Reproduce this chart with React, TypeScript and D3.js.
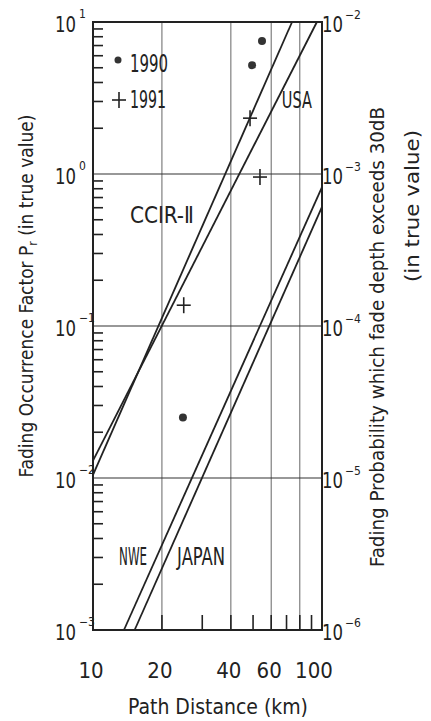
import React from 'react';
import { scaleLog, line } from 'd3';

// values (log-log chart)
const xTickValues = [10, 20, 40, 60, 100];
const xGridValues = [20, 40, 60, 80];
const xMinorValues = [20, 30, 40, 50, 60, 70, 80, 90];
const leftDecades = [10, 1, 0.1, 0.01, 0.001];
const leftExponents = ['1', '0', '−1', '−2', '−3'];
const rightDecades = [1e-2, 1e-3, 1e-4, 1e-5, 1e-6];
const rightExponents = ['−2', '−3', '−4', '−5', '−6'];

const lineNames = ['CCIR-Ⅱ', 'USA', 'NWE', 'JAPAN'];
const lineDistance = [[10, 74], [10, 95], [13.65, 100], [15.2, 100]];
const lineFactor = [[0.0105, 10], [0.013, 10], [0.001, 0.82], [0.001, 0.607]];
const labelDistance = [14.5, 66.8, 13.0, 23.3];
const labelFactor = [0.476, 2.72, 0.00268, 0.00268];
const labelWidth = [64, 30, 28, 48];

const dots1990Distance = [49.5, 54.7, 24.7];
const dots1990Factor = [5.2, 7.5, 0.025];
const cross1991Distance = [48.5, 53.6, 24.9];
const cross1991Factor = [2.33, 0.955, 0.137];

const W = 431;
const H = 721;
const M = { left: 93, right: 322, top: 22, bottom: 630 };
const FONT = '"DejaVu Sans Condensed", "DejaVu Sans", sans-serif';
const INK = '#222';

export default function App() {
  const x = scaleLog().domain([10, 100]).range([M.left, M.right]);
  const yL = scaleLog().domain([1e-3, 10]).range([M.bottom, M.top]);
  const yR = scaleLog().domain([1e-6, 1e-2]).range([M.bottom, M.top]);

  const minorLeft = yL.ticks().filter(v => {
    const m = v / Math.pow(10, Math.floor(Math.log10(v) + 1e-9));
    return Math.round(m) !== 1;
  });

  const path = line<[number, number]>()
    .x(d => x(d[0]))
    .y(d => yL(d[1]));

  const cross = (key: string, cx: number, cy: number) => (
    <g key={key} transform={`translate(${cx},${cy})`} stroke={INK} strokeWidth={1.6}>
      <line x1={-7} x2={7} y1={0} y2={0} />
      <line x1={0} x2={0} y1={-8} y2={8} />
    </g>
  );

  return (
    <svg width={W} height={H} style={{ position: 'absolute', left: 0, top: 0, background: '#fff' }} fontFamily={FONT} fontStretch="condensed">
      <rect x={0} y={0} width={W} height={H} fill="#fff" />

      {/* vertical grid */}
      {xGridValues.map(v => (
        <line key={'gx' + v} x1={x(v)} x2={x(v)} y1={M.top} y2={M.bottom} stroke="#666" strokeWidth={1} />
      ))}
      {/* horizontal decade grid */}
      {leftDecades.slice(1, 4).map(v => (
        <line key={'gy' + v} x1={M.left} x2={M.right} y1={yL(v)} y2={yL(v)} stroke="#333" strokeWidth={1.2} />
      ))}

      {/* bottom minor ticks */}
      {xMinorValues.map(v => (
        <line key={'mx' + v} x1={x(v)} x2={x(v)} y1={M.bottom} y2={M.bottom - 15} stroke={INK} strokeWidth={1.6} />
      ))}
      {/* left minor ticks */}
      {minorLeft.map(v => (
        <line key={'my' + v} x1={M.left} x2={M.left + 10} y1={yL(v)} y2={yL(v)} stroke={INK} strokeWidth={1.6} />
      ))}

      {/* frame */}
      <rect x={M.left} y={M.top} width={M.right - M.left} height={M.bottom - M.top} fill="none" stroke={INK} strokeWidth={2} />

      {/* model lines */}
      {lineNames.map((n, i) => (
        <path
          key={n}
          d={path([[lineDistance[i][0], lineFactor[i][0]], [lineDistance[i][1], lineFactor[i][1]]]) || ''}
          fill="none"
          stroke={INK}
          strokeWidth={1.8}
        />
      ))}
      {lineNames.map((n, i) => (
        <text key={'l' + n} x={x(labelDistance[i])} y={yL(labelFactor[i])} fontSize={i >= 2 ? 25 : 23} fill={INK}
          textLength={labelWidth[i]} lengthAdjust="spacingAndGlyphs">
          {n}
        </text>
      ))}

      {/* 1990 dots */}
      {dots1990Distance.map((d, i) => (
        <circle key={'d' + i} cx={x(d)} cy={yL(dots1990Factor[i])} r={4} fill="#333" />
      ))}
      {/* 1991 crosses */}
      {cross1991Distance.map((d, i) => cross('c' + i, x(d), yL(cross1991Factor[i])))}

      {/* legend */}
      <circle cx={118} cy={60} r={3.5} fill="#333" />
      <text x={130} y={72} fontSize={24} fill={INK} textLength={38} lengthAdjust="spacingAndGlyphs">1990</text>
      {cross('lg', 119, 100)}
      <text x={130} y={108} fontSize={24} fill={INK} textLength={36} lengthAdjust="spacingAndGlyphs">1991</text>

      {/* left decade labels */}
      {leftDecades.map((v, i) => (
        <g key={'ll' + v}>
          <text x={55} y={yL(v) + 10} fontSize={22} fill={INK} textLength={21} lengthAdjust="spacingAndGlyphs">10</text>
          <text x={79} y={yL(v) - 4} fontSize={12} fill={INK}>{leftExponents[i]}</text>
        </g>
      ))}
      {/* right decade labels */}
      {rightDecades.map((v, i) => (
        <g key={'rl' + v}>
          <text x={322} y={yR(v) + 10} fontSize={22} fill={INK} textLength={21} lengthAdjust="spacingAndGlyphs">10</text>
          <text x={345} y={yR(v) - 3} fontSize={12} fill={INK}>{rightExponents[i]}</text>
        </g>
      ))}

      {/* bottom labels */}
      {xTickValues.map(v => (
        <text key={'xl' + v} x={x(v) + (v === 100 ? -8 : -2)} y={678} fontSize={22} textAnchor="middle" fill={INK}>
          {v}
        </text>
      ))}
      <text x={218} y={714} fontSize={21} textAnchor="middle" fill={INK} textLength={180} lengthAdjust="spacingAndGlyphs">
        Path Distance (km)
      </text>

      {/* left axis title */}
      <text transform="translate(33,296) rotate(-90)" fontSize={19} textAnchor="middle" fill={INK} textLength={363} lengthAdjust="spacingAndGlyphs">
        Fading Occurrence Factor P<tspan fontSize={12} dy={4}>r</tspan><tspan dy={-4}> (in true value)</tspan>
      </text>
      {/* right axis titles */}
      <text transform="translate(384,337) rotate(-90)" fontSize={19} textAnchor="middle" fill={INK} textLength={460} lengthAdjust="spacingAndGlyphs">
        Fading Probability which fade depth exceeds 30dB
      </text>
      <text transform="translate(419,206) rotate(-90)" fontSize={19} textAnchor="middle" fill={INK} textLength={152} lengthAdjust="spacingAndGlyphs">
        (in true value)
      </text>
    </svg>
  );
}
